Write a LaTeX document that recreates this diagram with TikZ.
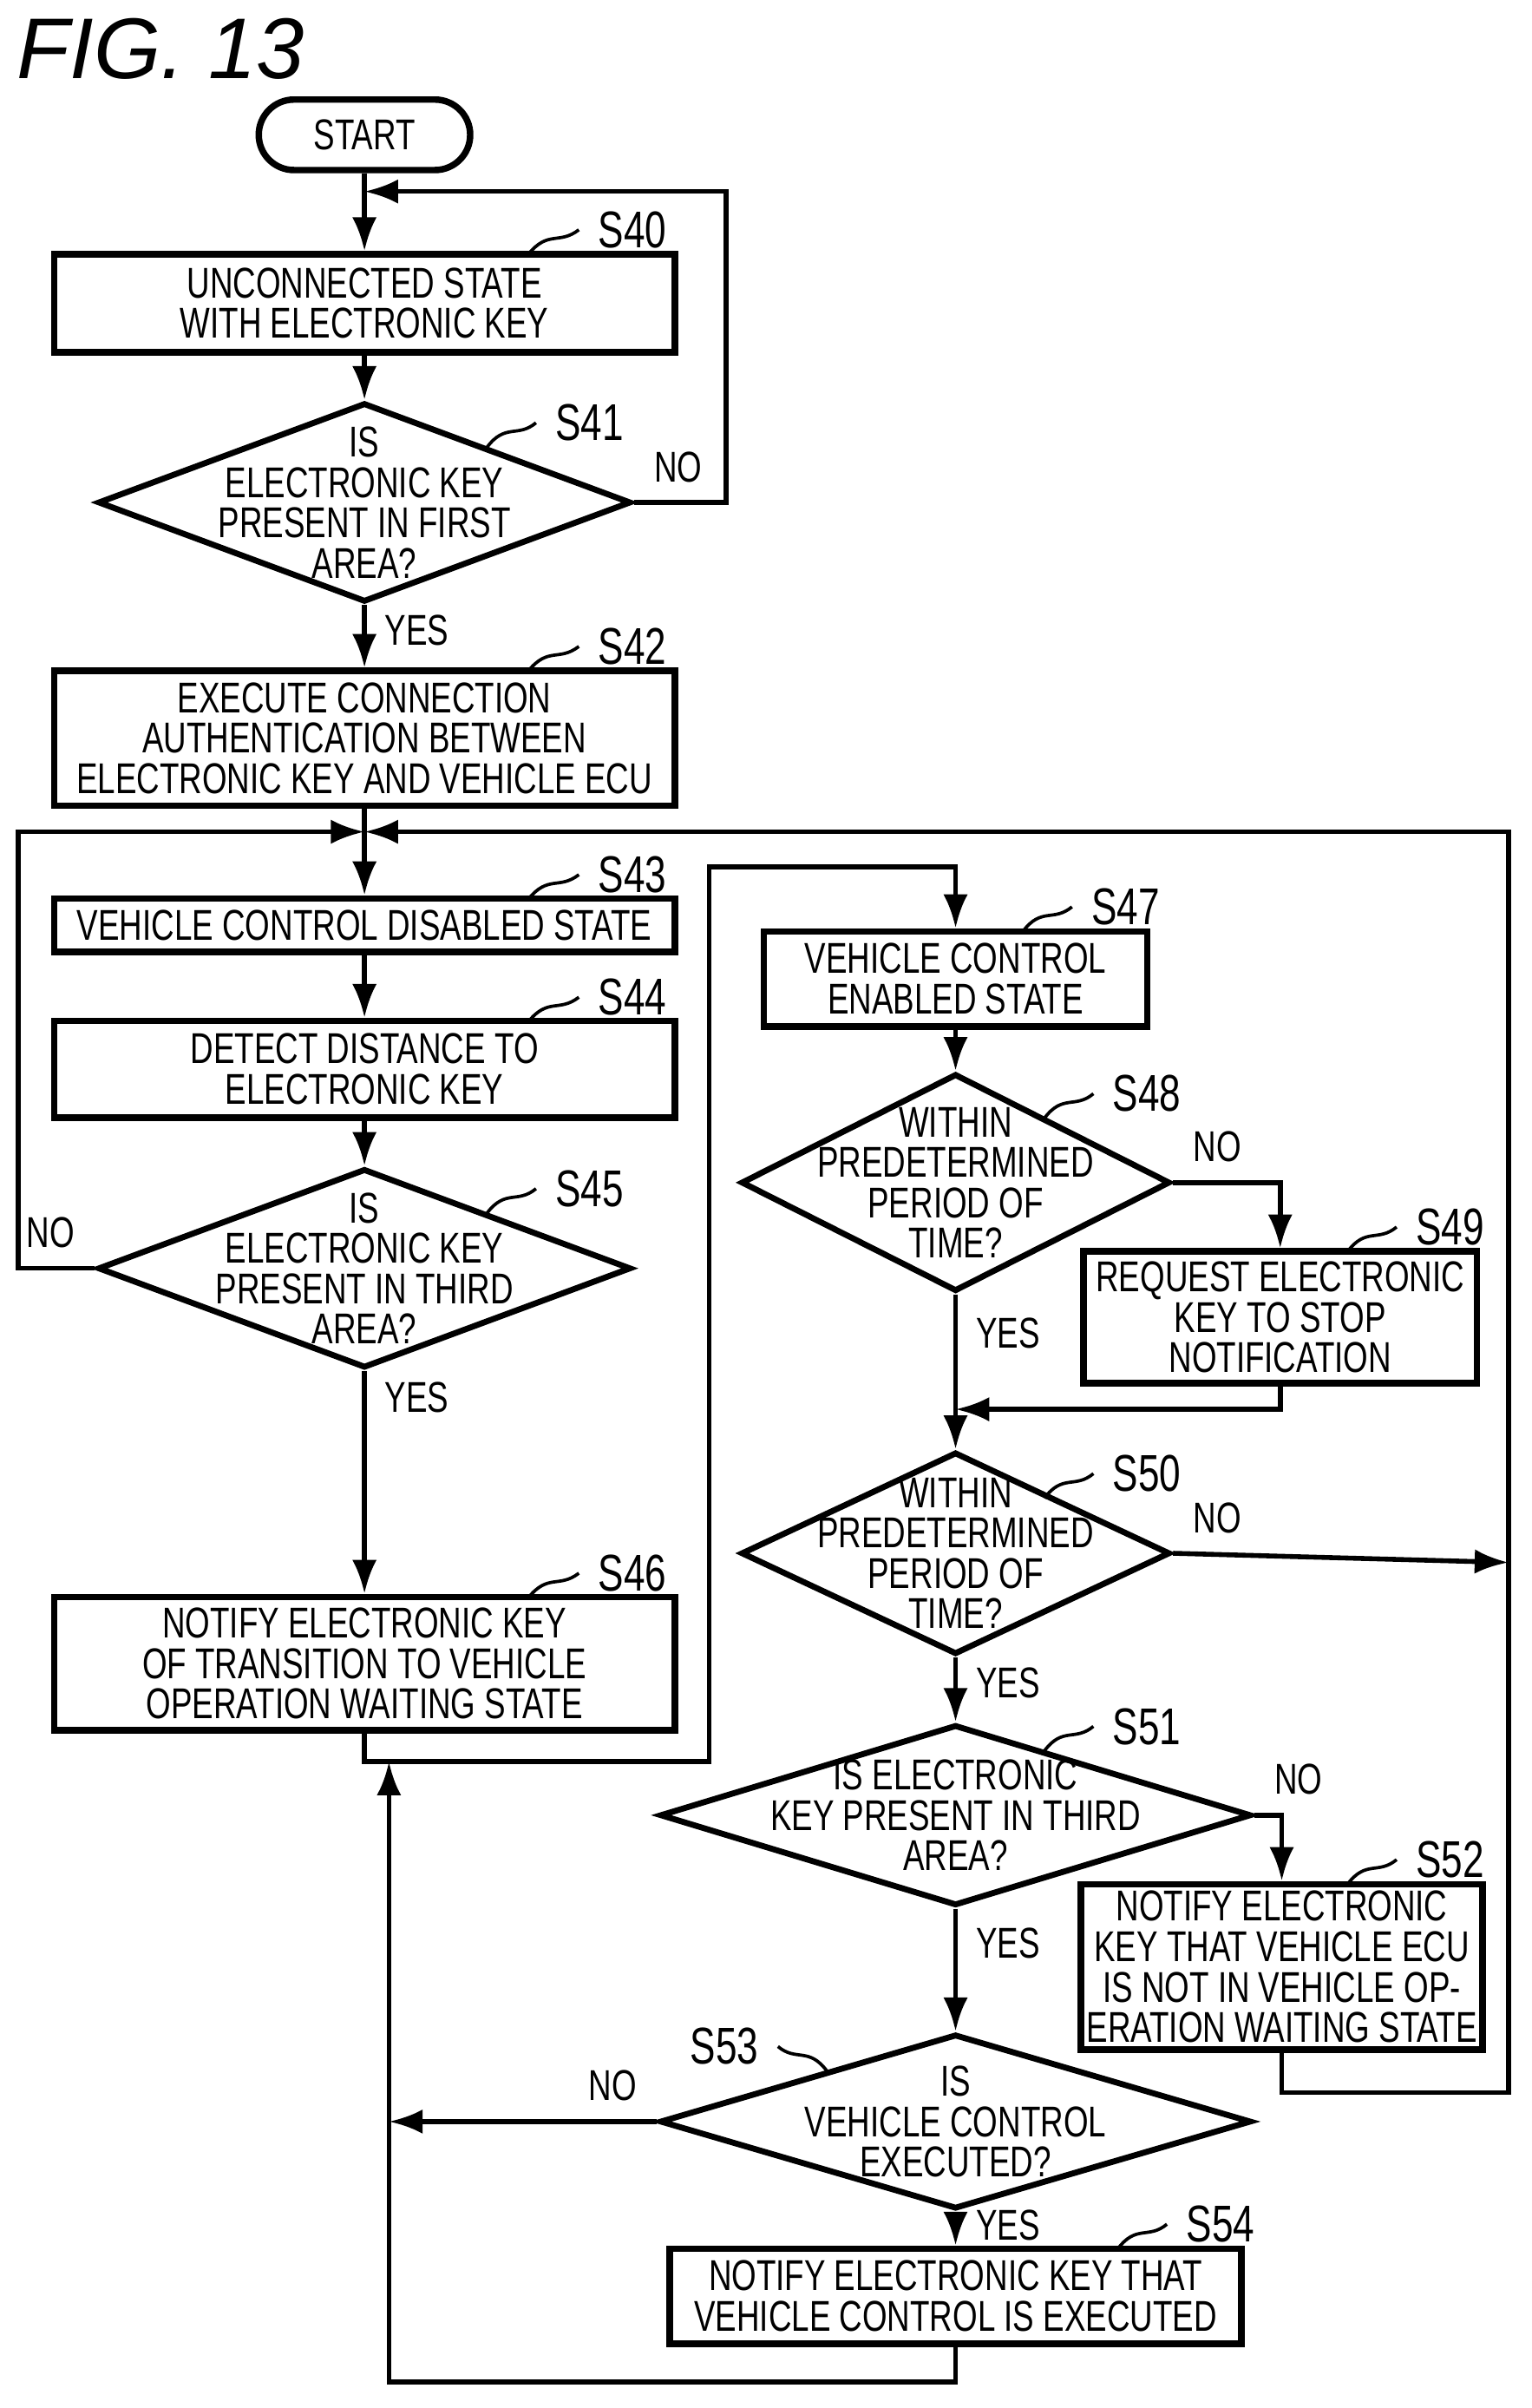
\documentclass[tikz,border=0pt]{standalone}
\usepackage{fontspec}
\setmainfont{Liberation Sans}[FakeStretch=0.74]
\newfontfamily\figfont{Liberation Sans}
\usetikzlibrary{arrows.meta,shapes.geometric,positioning}
\begin{document}
\begin{tikzpicture}[
    x = 0.01cm, y = -0.01cm,
    > = {Latex[length=2.2mm,width=1.6mm]}, % arrow head style
    line width = 0.9pt,
    font = \fontsize{8}{7.5}\selectfont
    ]

    \tikzset{
    box/.style = {draw, line width=1.2pt, minimum height=#1, align=center, inner sep=0pt},
    dia/.style = {draw, diamond, aspect=#1, inner sep=0pt, line width=1.1pt},
    txt/.style = {align=center, inner sep=0pt},
    lab/.style = {font=\fontsize{9.6}{10}\selectfont}
    }
    \useasboundingbox (0,0) rectangle (1000,1572);
    \node[font=\figfont\itshape\fontsize{16}{16}\selectfont] at (105,32) {FIG. 13};

    \node[draw, rounded corners=0.23cm, line width=1.2pt, minimum width=1.38cm, minimum height=0.46cm] (start) at (238,88) {START};
    \node[box=0.64cm, minimum width=4.05cm] (s40) at (238,198) {UNCONNECTED STATE\\WITH ELECTRONIC KEY};
    \node[dia=2.68, minimum width=3.48cm, minimum height=1.3cm] (s41) at (238,328) {};
    \node[txt] at (s41) {IS\\ELECTRONIC KEY\\PRESENT IN FIRST\\AREA?};
    \node[box=0.88cm, minimum width=4.05cm] (s42) at (238,482) {EXECUTE CONNECTION\\AUTHENTICATION BETWEEN\\ELECTRONIC KEY AND VEHICLE ECU};
    \node[box=0.35cm, minimum width=4.05cm] (s43) at (238,604) {VEHICLE CONTROL DISABLED STATE};
    \node[box=0.63cm, minimum width=4.05cm] (s44) at (238,698) {DETECT DISTANCE TO\\ELECTRONIC KEY};
    \node[dia=2.68, minimum width=3.48cm, minimum height=1.3cm] (s45) at (238,828) {};
    \node[txt] at (s45) {IS\\ELECTRONIC KEY\\PRESENT IN THIRD\\AREA?};
    \node[box=0.87cm, minimum width=4.05cm] (s46) at (238,1086) {NOTIFY ELECTRONIC KEY\\OF TRANSITION TO VEHICLE\\OPERATION WAITING STATE};

    \node[box=0.62cm, minimum width=2.5cm] (s47) at (624,639) {VEHICLE CONTROL\\ENABLED STATE};
    \node[dia=1.97, minimum width=2.8cm, minimum height=1.42cm] (s48) at (624,772) {};
    \node[txt] at (s48) {WITHIN\\PREDETERMINED\\PERIOD OF\\TIME?};
    \node[box=0.86cm, minimum width=2.57cm] (s49) at (836,860) {REQUEST ELECTRONIC\\KEY TO STOP\\NOTIFICATION};
    \node[dia=2.12, minimum width=2.8cm, minimum height=1.32cm] (s50) at (624,1014) {};
    \node[txt] at (s50) {WITHIN\\PREDETERMINED\\PERIOD OF\\TIME?};
    \node[dia=3.27, minimum width=3.86cm, minimum height=1.18cm] (s51) at (624,1185) {};
    \node[txt] at (s51) {IS ELECTRONIC\\KEY PRESENT IN THIRD\\AREA?};
    \node[box=1.08cm, minimum width=2.62cm] (s52) at (837,1284) {NOTIFY ELECTRONIC\\KEY THAT VEHICLE ECU\\IS NOT IN VEHICLE OP-\\ERATION WAITING STATE};
    \node[dia=3.39, minimum width=3.86cm, minimum height=1.14cm] (s53) at (624,1385) {};
    \node[txt] at (s53) {IS\\VEHICLE CONTROL\\EXECUTED?};
    \node[box=0.62cm, minimum width=3.73cm] (s54) at (624,1499) {NOTIFY ELECTRONIC KEY THAT\\VEHICLE CONTROL IS EXECUTED};

    \coordinate (j1) at (238,125);
    \coordinate (j2) at (238,543);
    \coordinate (j3) at (238,1150);
    \coordinate (j4) at (254,1150);

    % main line
    \draw[->] (start) -- (s40);
    \draw[->] (s40) -- (s41);
    \draw[->] (s41) -- node[right, pos=0.4]{YES} (s42);
    \draw[->] (j2) -- (s43);
    \draw (s42) -- (j2);
    \draw[->] (s43) -- (s44);
    \draw[->] (s44) -- (s45);
    \draw[->] (s45) -- node[right, pos=0.12]{YES} (s46);
    \draw[->] (s41.east) node[above right]{NO} -- ++(60,0) |- (j1);
    \draw[->] (s45.west) node[above left]{NO} -- (12,828) |- (j2);
    \draw[->] (s46) -- (j3) -| (463,566) -| (s47);

    \draw[->] (s47) -- (s48);
    \draw[->] (s48.east) node[above right]{NO} -| (s49);
    \draw[->] (s48) -- node[right, pos=0.25]{YES} (s50);
    \draw[->] (s49) |- (624,920);
    \draw[->] (s50.east) node[above right]{NO} -- (985,1020);
    \draw[->] (s50) -- node[right, pos=0.4]{YES} (s51);
    \draw[->] (s51.east) node[above right]{NO} -| (s52);
    \draw[->] (s51) -- node[right, pos=0.28]{YES} (s53);
    \draw[->] (s52) |- (985,1366) -- (985,543) -- (j2);
    \draw[->] (s53.west) node[above left]{NO} -- (254,1385);
    \draw[->] (s53) -- node[right, pos=0.4]{YES} (s54);
    \draw[->] (s54) -- (624,1555) -| (j4);

    % step labels
    \draw[line width=0.6pt] (345,166) .. controls (358,150) and (365,160) .. (378,150) node[lab, right]{S40};
    \draw[line width=0.6pt] (318,292) .. controls (330,276) and (338,286) .. (350,276) node[lab, right]{S41};
    \draw[line width=0.6pt] (345,438) .. controls (358,422) and (365,432) .. (378,422) node[lab, right]{S42};
    \draw[line width=0.6pt] (345,587) .. controls (358,571) and (365,581) .. (378,571) node[lab, right]{S43};
    \draw[line width=0.6pt] (345,667) .. controls (358,651) and (365,661) .. (378,651) node[lab, right]{S44};
    \draw[line width=0.6pt] (318,792) .. controls (330,776) and (338,786) .. (350,776) node[lab, right]{S45};
    \draw[line width=0.6pt] (345,1043) .. controls (358,1027) and (365,1037) .. (378,1027) node[lab, right]{S46};
    \draw[line width=0.6pt] (668,608) .. controls (680,592) and (688,602) .. (700,592) node[lab, right]{S47};
    \draw[line width=0.6pt] (682,730) .. controls (694,714) and (702,724) .. (714,714) node[lab, right]{S48};
    \draw[line width=0.6pt] (880,817) .. controls (892,801) and (900,811) .. (912,801) node[lab, right]{S49};
    \draw[line width=0.6pt] (682,978) .. controls (694,962) and (702,972) .. (714,962) node[lab, right]{S50};
    \draw[line width=0.6pt] (682,1143) .. controls (694,1127) and (702,1137) .. (714,1127) node[lab, right]{S51};
    \draw[line width=0.6pt] (880,1230) .. controls (892,1214) and (900,1224) .. (912,1214) node[lab, right]{S52};
    \draw[line width=0.6pt] (540,1352) .. controls (528,1336) and (520,1346) .. (508,1336) node[lab, left]{S53};
    \draw[line width=0.6pt] (730,1468) .. controls (742,1452) and (750,1462) .. (762,1452) node[lab, right]{S54};
\end{tikzpicture}
\end{document}
